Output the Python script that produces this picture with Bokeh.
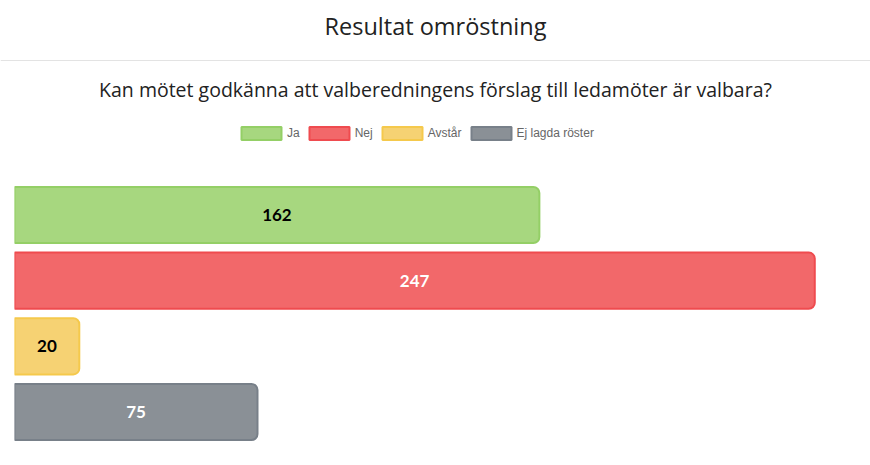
from bokeh.plotting import figure
from bokeh.models import ColumnDataSource, Range1d
from bokeh.layouts import column
from bokeh.embed import file_html
from bokeh.resources import INLINE
from bokeh.core.properties import value

# ---- data ----
chart_title = "Resultat omröstning"
question = "Kan mötet godkänna att valberedningens förslag till ledamöter är valbara?"
categories = ["Ja", "Nej", "Avstår", "Ej lagda röster"]
votes = [162, 247, 20, 75]

# ---- styles ----
fill_colors = ["#a7d77f", "#f2686a", "#f6d273", "#8a9096"]
line_colors = ["#94cf66", "#ef4b4f", "#f5c94c", "#788089"]
label_colors = ["#000000", "#ffffff", "#000000", "#ffffff"]

W = 870
TOP_H = 110

# ---- header figure ----
top = figure(width=W, height=TOP_H, x_range=Range1d(0, W), y_range=Range1d(0, TOP_H),
             output_backend="svg", toolbar_location=None, min_border=0,
             x_axis_location=None, y_axis_location=None)
top.frame_align = False
top.grid.visible = False
top.outline_line_color = None
top.text(x=[W / 2], y=[TOP_H - 25], text=[chart_title], text_font=value("Open Sans"),
         text_font_size="23.5px", text_align="center", text_baseline="middle", text_color="#222222")
top.segment(x0=[0], y0=[TOP_H - 60], x1=[W], y1=[TOP_H - 60], line_color="#e3e3e3", line_width=1)
top.text(x=[W / 2], y=[TOP_H - 89], text=[question], text_font=value("Open Sans"),
         text_font_size="19.5px", text_align="center", text_baseline="middle", text_color="#222222")

# ---- bar figure ----
n = len(categories)
ypos = [n - i for i in range(n)]
src = ColumnDataSource(dict(
    cat=categories, votes=votes, y=ypos,
    mid=[v / 2 for v in votes], label=[str(v) for v in votes],
    fill=fill_colors, line=line_colors, lcolor=label_colors,
))

bot = figure(width=W, height=355, x_range=Range1d(0, 264.2), y_range=Range1d(0.49, 5.591),
             output_backend="svg", toolbar_location=None,
             min_border_left=14, min_border_right=0, min_border_top=0, min_border_bottom=20,
             x_axis_location=None, y_axis_location=None)
bot.frame_align = False
bot.grid.visible = False
bot.outline_line_color = None

bot.hbar(y="y", right="votes", left=0, height=0.855, fill_color="fill", line_color="line",
         line_width=2, border_radius=(0, 6, 6, 0), source=src, legend_field="cat")
bot.text(x="mid", y="y", text="label", text_color="lcolor", text_align="center",
         text_baseline="middle", text_font=value("Lato"), text_font_style="bold",
         text_font_size="17px", source=src)

lg = bot.legend[0]
lg.orientation = "horizontal"
lg.location = (222, 304.5)
lg.padding = 0
lg.margin = 0
lg.spacing = 4
lg.label_standoff = 1
lg.label_width = 0
lg.glyph_width = 50
lg.glyph_height = 16
lg.label_text_font = "Liberation Sans"
lg.label_text_font_size = "12px"
lg.label_text_color = "#666666"
lg.border_line_color = None
lg.background_fill_alpha = 0

layout = column(top, bot)
open("out.html", "w").write(file_html(layout, INLINE))
